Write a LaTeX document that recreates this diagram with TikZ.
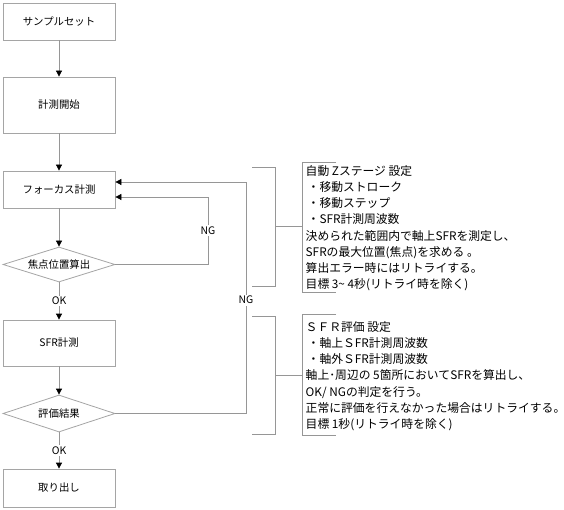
\documentclass[tikz,border=0pt]{standalone}
\usepackage{fontspec}
\setmainfont{Noto Sans CJK JP}
\usetikzlibrary{arrows.meta,shapes.geometric}
\definecolor{ln}{RGB}{150,150,150}
\definecolor{bx}{RGB}{165,165,165}
\begin{document}
\begin{tikzpicture}[x=1pt,y=-1pt,
  box/.style={draw=bx,line width=0.8pt,rectangle,minimum width=112pt,inner sep=0pt,font=\fontsize{10.4}{12}\selectfont},
  dia/.style={draw=bx,line width=0.8pt,diamond,minimum width=112pt,inner sep=0pt,aspect=3,font=\fontsize{10.4}{12}\selectfont},
  conn/.style={draw=ln,line width=0.8pt},
  arr/.style={conn,-{Triangle[length=6pt,width=6pt,color=black]}},
  lbl/.style={fill=white,inner sep=1.5pt,font=\fontsize{10.4}{12}\selectfont},
  note/.style={anchor=north west,inner sep=0pt,align=left,font=\fontsize{11.8}{16.1}\selectfont}]
\useasboundingbox[fill=white] (0,0) rectangle (564,510);

% flowchart nodes
\node[box,minimum height=37pt] (b1) at (59,21.5) {サンプルセット};
\node[box,minimum height=56pt] (b2) at (59,105) {計測開始};
\node[box,minimum height=37pt] (b3) at (59,189.5) {フォーカス計測};
\node[dia,minimum height=35pt] (d1) at (59,264.5) {焦点位置算出};
\node[box,minimum height=46pt] (b4) at (59,343) {SFR計測};
\node[dia,minimum height=37pt] (d2) at (59,413.5) {評価結果};
\node[box,minimum height=38pt] (b5) at (59,488) {取り出し};

% main flow
\draw[arr] (b1.south) -- (b2.north);
\draw[arr] (b2.south) -- (b3.north);
\draw[arr] (b3.south) -- (d1.north);
\draw[arr] (d1.south) -- node[lbl]{OK} (b4.north);
\draw[arr] (b4.south) -- (d2.north);
\draw[arr] (d2.south) -- node[lbl]{OK} (b5.north);

% NG loops
\coordinate (ng1) at (208,197);
\coordinate (ng2) at (246,182);
\draw[arr] (d1.east) -- (d1.east -| ng1) -- node[lbl]{NG} (ng1) -- (ng1 -| b3.east);
\draw[arr] (d2.east) -- (d2.east -| ng2) -- node[lbl,pos=0.49]{NG} (ng2) -- (ng2 -| b3.east);

% brackets
\draw[conn] (252,167) -- (275,167) -- (275,286) -- (252,286);
\draw[conn] (275,226.5) -- (302,226.5);
\draw[conn] (336,162) -- (302,162) -- (302,292) -- (336,292);

\draw[conn] (252,316) -- (275,316) -- (275,434) -- (252,434);
\draw[conn] (275,375.5) -- (302,375.5);
\draw[conn] (336,314) -- (302,314) -- (302,435) -- (336,435);

% notes
\node[note] (t1) at (305.5,165.5) {自動 Zステージ 設定\\
\hspace{2pt}・移動ストローク\\
\hspace{2pt}・移動ステップ\\
\hspace{2pt}・SFR計測周波数\\
決められた範囲内で軸上SFRを測定し、\\
SFRの最大位置(焦点)を求める 。\\
算出エラー時にはリトライする。\\
目標 3\textasciitilde{} 4秒(リトライ時を除く)};

\node[note] (t2) at (305.5,321.5) {ＳＦＲ評価 設定\\
\hspace{2pt}・軸上ＳFR計測周波数\\
\hspace{2pt}・軸外ＳFR計測周波数\\
軸上･周辺の 5箇所においてSFRを算出し、\\
OK/ NGの判定を行う。\\
正常に評価を行えなかった場合はリトライする。\\
目標 1秒(リトライ時を除く)};
\end{tikzpicture}
\end{document}
